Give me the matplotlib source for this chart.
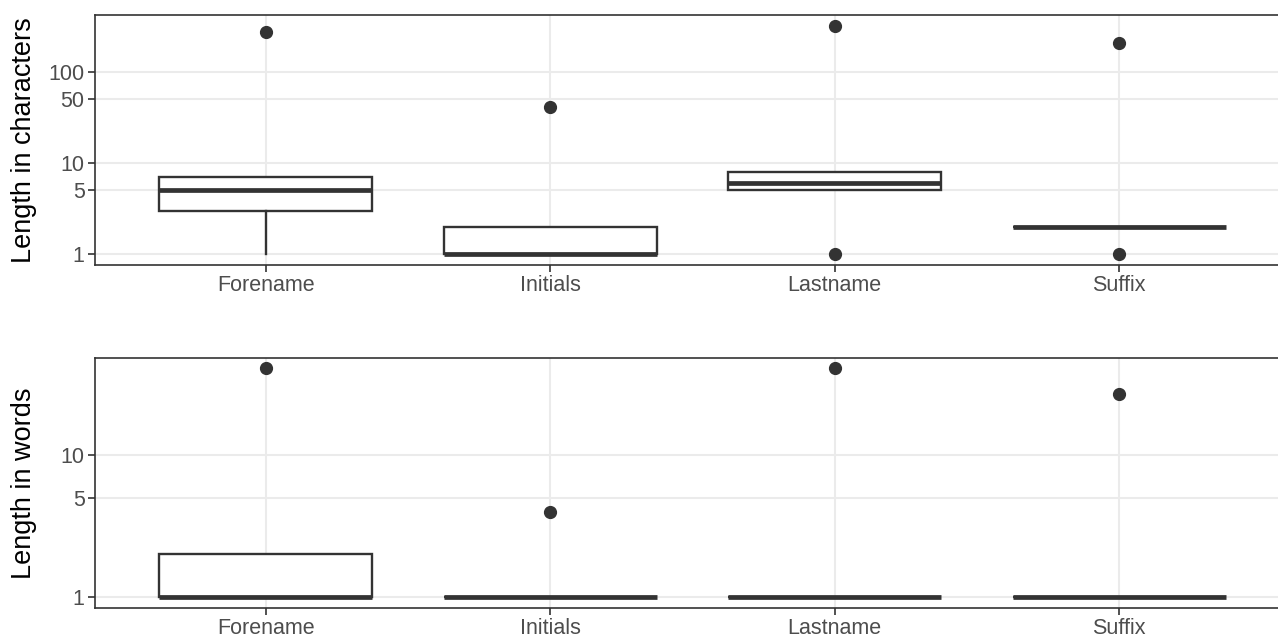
import matplotlib.pyplot as plt
import numpy as np

plt.rcParams['font.family'] = ['Liberation Sans', 'DejaVu Sans']

categories = ['Forename', 'Initials', 'Lastname', 'Suffix']

# length in characters: q1, median, q3, whisker low, whisker high, outliers
char_q1 = [3, 1, 5, 2]
char_med = [5, 1, 6, 2]
char_q3 = [7, 2, 8, 2]
char_wlo = [1, 1, 5, 2]
char_whi = [7, 2, 8, 2]
char_fliers = [[275], [41], [320, 1], [208, 1]]

# length in words
word_q1 = [1, 1, 1, 1]
word_med = [1, 1, 1, 1]
word_q3 = [2, 1, 1, 1]
word_wlo = [1, 1, 1, 1]
word_whi = [2, 1, 1, 1]
word_fliers = [[41], [4], [41], [27]]

dark = '#333333'


def make_stats(q1, med, q3, wlo, whi, fliers):
    out = []
    for i in range(len(categories)):
        out.append(dict(q1=q1[i], med=med[i], q3=q3[i], whislo=wlo[i],
                        whishi=whi[i], fliers=fliers[i], label=categories[i]))
    return out


def draw(ax, stats, ylim, yticks):
    ax.set_yscale('log')
    ax.bxp(stats, positions=np.arange(len(categories)), widths=0.75,
           showcaps=False, patch_artist=True,
           boxprops=dict(facecolor='white', edgecolor=dark, linewidth=1.7),
           medianprops=dict(color=dark, linewidth=3.4, solid_capstyle='butt'),
           whiskerprops=dict(color=dark, linewidth=1.7),
           flierprops=dict(marker='o', markerfacecolor=dark, markeredgecolor=dark,
                           markersize=8.5))
    ax.set_xlim(-0.6, 3.6)
    ax.set_ylim(*ylim)
    ax.set_yticks(yticks)
    ax.set_yticklabels([str(t) for t in yticks])
    ax.yaxis.set_minor_locator(plt.NullLocator())
    ax.set_xticks(np.arange(len(categories)))
    ax.set_xticklabels(categories)
    ax.grid(True, color='#EBEBEB', linewidth=1.5)
    ax.set_axisbelow(True)
    for s in ax.spines.values():
        s.set_color(dark)
        s.set_linewidth(1.2)
    ax.tick_params(colors=dark, labelcolor='#4D4D4D', labelsize=15.5,
                   length=5, width=1.2, pad=2.5)


fig = plt.figure(figsize=(12.78, 6.4), dpi=100)
W, H = 1278, 640
ax1 = fig.add_axes([95 / W, 1 - 265 / H, 1195 / W, 250 / H])
ax2 = fig.add_axes([95 / W, 1 - 608 / H, 1195 / W, 250 / H])

draw(ax1, make_stats(char_q1, char_med, char_q3, char_wlo, char_whi, char_fliers),
     (0.757, 423), [1, 5, 10, 50, 100])
draw(ax2, make_stats(word_q1, word_med, word_q3, word_wlo, word_whi, word_fliers),
     (0.837, 48.2), [1, 5, 10])

fig.text(24 / W, 1 - 140 / H, 'Length in characters', rotation=90,
         ha='center', va='center', fontsize=19.5)
fig.text(24 / W, 1 - 483 / H, 'Length in words', rotation=90,
         ha='center', va='center', fontsize=19.5)

fig.savefig('out.png', dpi=100)
